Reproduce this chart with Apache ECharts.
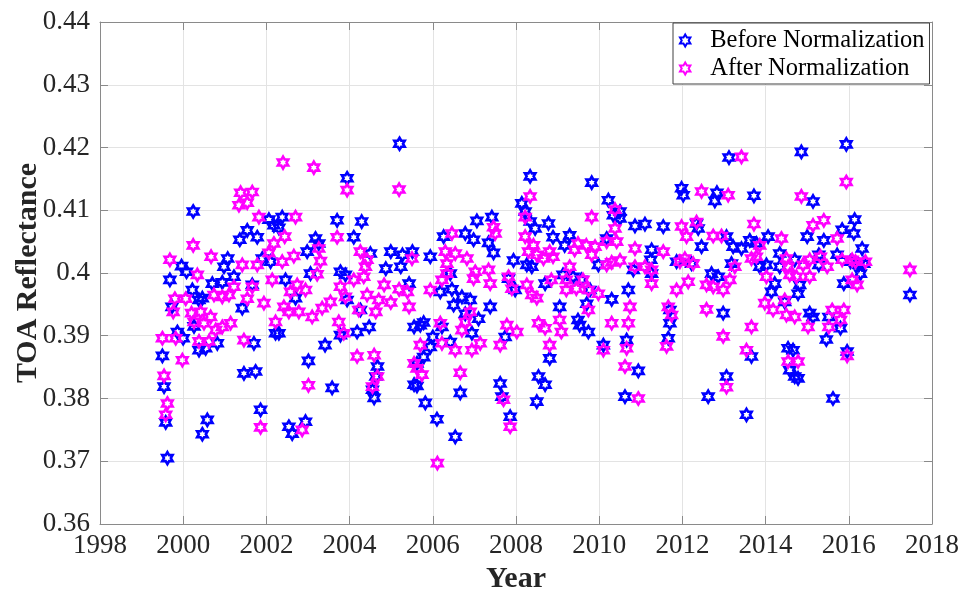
<!DOCTYPE html>
<html>
<head>
<meta charset="utf-8">
<script src="https://cdn.jsdelivr.net/npm/echarts@6/dist/echarts.min.js"></script>
<style>
  html, body { margin: 0; padding: 0; background: #fff; }
  #chart { width: 962px; height: 594px; }
</style>
</head>
<body>
<div id="chart"></div>
<script>
// Sampling times (decimal year) and TOA reflectance before normalization
const beforeYear = [
  2000.24, 2001.54, 2001.36, 2001.78, 2001.07, 2000.98, 1999.96, 2000.08, 1999.68, 2001.22,
  2001.90, 2002.10, 2000.22, 2000.38, 2000.70, 2000.94, 1999.73, 2001.42, 2001.66, 2002.22,
  1999.86, 2000.00, 2000.26, 2000.82, 2000.38, 2000.54, 2001.70, 1999.50, 1999.54, 1999.58,
  1999.62, 2001.46, 2001.74, 2001.86, 2000.58, 2000.46, 2002.06, 2002.18, 2000.46,
  2005.20, 2003.94, 2002.38, 2002.30, 2003.70, 2004.29, 2004.10, 2003.18, 2003.26, 2002.98,
  2004.99, 2005.27, 2005.51, 2004.50, 2004.87, 2005.23, 2003.78, 2003.90, 2003.06, 2002.46,
  2005.43, 2002.70, 2003.94, 2004.26, 2002.30, 2003.78, 2004.18, 2004.47, 2005.55, 2003.41,
  2003.01, 2004.67, 2004.63, 2004.55, 2004.59, 2003.58, 2005.55, 2002.54, 2002.62, 2002.94,
  2008.34, 2008.14, 2008.22, 2008.34, 2008.46, 2008.78, 2007.06, 2007.42, 2006.78, 2006.98,
  2006.26, 2007.34, 2007.46, 2005.94, 2007.94, 2008.26, 2008.38, 2006.42, 2007.82, 2008.70,
  2006.18, 2006.46, 2006.70, 2006.90, 2007.98, 2006.50, 2007.38, 2006.78, 2007.10, 2005.70,
  2005.78, 2006.22, 2006.94, 2007.74, 2006.00, 2006.42, 2005.94, 2005.78, 2005.62, 2008.54,
  2008.70, 2005.62, 2007.62, 2007.66, 2006.66, 2005.82, 2008.50, 2007.86, 2006.10, 2006.54,
  2009.82, 2010.22, 2011.98, 2012.02, 2010.50, 2010.34, 2010.50, 2010.86, 2011.10, 2011.54,
  2008.89, 2009.29, 2010.18, 2009.17, 2011.26, 2011.24, 2009.98, 2010.82, 2011.86, 2009.13,
  2009.37, 2009.57, 2011.26, 2009.78, 2010.70, 2010.30, 2009.05, 2009.70, 2011.70, 2009.49,
  2009.53, 2009.74, 2011.70, 2008.81, 2010.10, 2010.66, 2011.66, 2010.94, 2010.62,
  2013.12, 2014.86, 2012.83, 2012.78, 2013.72, 2015.14, 2012.34, 2012.38, 2013.06, 2012.46,
  2013.22, 2013.42, 2013.62, 2013.78, 2014.06, 2015.00, 2014.34, 2012.22, 2013.18, 2013.86,
  2014.02, 2014.34, 2014.70, 2012.70, 2012.86, 2014.22, 2014.14, 2014.82, 2014.78, 2014.46,
  2015.06, 2015.14, 2012.98, 2013.66, 2014.54, 2014.66, 2014.58, 2014.70, 2014.78, 2013.06,
  2012.62, 2013.54,
  2015.94, 2016.14, 2015.84, 2016.12, 2015.40, 2016.32, 2015.72, 2015.28, 2015.28, 2016.04,
  2016.24, 2016.36, 2016.28, 2015.88, 2017.47, 2015.52, 2015.80, 2015.46, 2015.96, 2015.62
];
const beforeValue = [
  0.4098, 0.4068, 0.4053, 0.4057, 0.4023, 0.4010, 0.4011, 0.4002, 0.3989, 0.3994,
  0.4023, 0.4018, 0.3973, 0.3957, 0.3983, 0.3985, 0.3946, 0.3944, 0.3981, 0.3904,
  0.3906, 0.3896, 0.3915, 0.3888, 0.3877, 0.3880, 0.3888, 0.3868, 0.3819, 0.3762,
  0.3705, 0.3840, 0.3843, 0.3782, 0.3766, 0.3743, 0.4085, 0.4076, 0.3960,
  0.4206, 0.4151, 0.4089, 0.4072, 0.4084, 0.4082, 0.4057, 0.4055, 0.4047, 0.4034,
  0.4034, 0.4029, 0.4034, 0.4031, 0.4007, 0.4010, 0.4002, 0.3997, 0.3999, 0.3989,
  0.3983, 0.3960, 0.3957, 0.3941, 0.3904, 0.3901, 0.3906, 0.3914, 0.3914, 0.3885,
  0.3860, 0.3851, 0.3835, 0.3814, 0.3801, 0.3817, 0.3822, 0.3755, 0.3744, 0.3763,
  0.4154, 0.4111, 0.4098, 0.4082, 0.4071, 0.4079, 0.4083, 0.4089, 0.4063, 0.4053,
  0.4058, 0.4048, 0.4032, 0.4026, 0.4020, 0.4013, 0.4010, 0.3999, 0.3991, 0.3983,
  0.3970, 0.3974, 0.3962, 0.3957, 0.3973, 0.3949, 0.3946, 0.3935, 0.3927, 0.3917,
  0.3921, 0.3914, 0.3904, 0.3898, 0.3898, 0.3890, 0.3882, 0.3866, 0.3856, 0.3835,
  0.3822, 0.3820, 0.3824, 0.3803, 0.3809, 0.3793, 0.3795, 0.3771, 0.3767, 0.3739,
  0.4144, 0.4116, 0.4135, 0.4124, 0.4098, 0.4092, 0.4087, 0.4075, 0.4078, 0.4074,
  0.4057, 0.4060, 0.4055, 0.4044, 0.4037, 0.4021, 0.4013, 0.4005, 0.4018, 0.3997,
  0.3994, 0.3989, 0.3999, 0.3973, 0.3973, 0.3958, 0.3946, 0.3951, 0.3941, 0.3925,
  0.3917, 0.3906, 0.3920, 0.3864, 0.3885, 0.3893, 0.3896, 0.3844, 0.3803,
  0.4184, 0.4193, 0.4128, 0.4115, 0.4123, 0.4114, 0.4079, 0.4071, 0.4058, 0.4042,
  0.4042, 0.4039, 0.4052, 0.4047, 0.4058, 0.4058, 0.4031, 0.4015, 0.4015, 0.4010,
  0.4013, 0.4010, 0.4021, 0.3999, 0.3994, 0.3983, 0.3970, 0.3981, 0.3967, 0.3954,
  0.3936, 0.3930, 0.3936, 0.3867, 0.3880, 0.3877, 0.3845, 0.3835, 0.3832, 0.3835,
  0.3803, 0.3774,
  0.4205, 0.4085, 0.4069, 0.4063, 0.4052, 0.4039, 0.4029, 0.4029, 0.4013, 0.4018,
  0.4013, 0.4015, 0.3999, 0.3983, 0.3965, 0.3930, 0.3912, 0.3894, 0.3875, 0.3800
];

// Sampling times (decimal year) and TOA reflectance after normalization
const afterYear = [
  2001.38, 2001.66, 2001.34, 2001.54, 2001.82, 2000.24, 1999.68, 2000.67, 2001.42, 2001.78,
  2002.18, 2002.06, 2002.14, 2000.34, 2001.66, 1999.80, 1999.76, 2000.06, 2000.20, 2000.42,
  2000.74, 2000.94, 2001.10, 2001.22, 2001.54, 2001.94, 2000.26, 2000.50, 2000.66, 2000.78,
  2000.94, 2001.14, 1999.50, 1999.82, 2000.38, 2000.62, 2001.46, 1999.98, 1999.54, 1999.62,
  1999.58, 2002.22, 2001.86,
  2002.40, 2003.14, 2003.94, 2005.19, 2002.70, 2002.44, 2003.70, 2003.26, 2003.30, 2004.26,
  2004.42, 2004.38, 2002.66, 2002.38, 2003.22, 2004.10, 2004.34, 2003.78, 2004.83, 2005.19,
  2005.39, 2002.58, 2002.94, 2002.74, 2004.42, 2004.70, 2004.99, 2003.54, 2003.34, 2003.90,
  2002.42, 2002.54, 2002.78, 2003.10, 2004.63, 2004.22, 2005.43, 2003.74, 2003.86, 2004.18,
  2004.59, 2004.67, 2004.55, 2003.01, 2005.55, 2002.86,
  2008.34, 2008.22, 2007.46, 2007.50, 2006.46, 2008.22, 2008.42, 2008.30, 2008.50, 2008.66,
  2006.30, 2006.54, 2006.82, 2006.34, 2006.34, 2006.22, 2007.02, 2007.34, 2006.98, 2007.38,
  2007.82, 2007.90, 2008.26, 2008.38, 2008.50, 2005.94, 2006.90, 2006.18, 2006.70, 2006.78,
  2008.54, 2008.70, 2007.78, 2008.02, 2005.70, 2006.22, 2006.54, 2006.94, 2007.14, 2007.62,
  2005.62, 2005.74, 2006.66, 2007.70, 2007.86, 2006.11, 2005.50,
  2010.38, 2009.82, 2010.38, 2011.98, 2009.49, 2009.69, 2009.90, 2009.41, 2009.82, 2010.18,
  2010.42, 2010.86, 2011.54, 2008.81, 2008.89, 2009.29, 2010.18, 2010.30, 2010.50, 2010.86,
  2011.10, 2011.26, 2011.26, 2011.94, 2008.85, 2009.21, 2009.21, 2009.45, 2009.61, 2009.74,
  2009.98, 2011.86, 2009.74, 2010.74, 2011.66, 2009.05, 2009.09, 2010.30, 2010.70, 2011.74,
  2008.81, 2010.10, 2010.66, 2011.62, 2010.62, 2010.94,
  2013.42, 2012.46, 2013.10, 2014.86, 2013.72, 2012.10, 2012.34, 2012.74, 2012.94, 2013.86,
  2014.38, 2015.14, 2012.06, 2012.26, 2013.66, 2013.78, 2013.26, 2014.50, 2014.54, 2014.90,
  2015.06, 2012.14, 2012.58, 2012.74, 2012.98, 2013.14, 2014.02, 2014.58, 2014.74, 2015.06,
  2013.98, 2014.18, 2014.46, 2014.50, 2014.70, 2012.58, 2013.66, 2015.02, 2012.98, 2013.54,
  2014.54, 2014.78, 2013.06,
  2015.94, 2015.40, 2015.72, 2015.32, 2015.48, 2015.84, 2016.08, 2016.16, 2016.40, 2016.08,
  2016.20, 2017.47, 2015.60, 2015.88, 2015.80, 2015.52, 2015.96
];
const afterValue = [
  0.4128, 0.4129, 0.4108, 0.4112, 0.4089, 0.4044, 0.4021, 0.4026, 0.4013, 0.4013,
  0.4047, 0.4032, 0.3989, 0.3997, 0.3978, 0.3959, 0.3938, 0.3959, 0.3936, 0.3938,
  0.3965, 0.3962, 0.3965, 0.3978, 0.3959, 0.3952, 0.3922, 0.3920, 0.3930, 0.3909,
  0.3914, 0.3920, 0.3896, 0.3896, 0.3891, 0.3891, 0.3893, 0.3861, 0.3836, 0.3792,
  0.3774, 0.3922, 0.3754,
  0.4176, 0.4168, 0.4132, 0.4133, 0.4089, 0.4058, 0.4057, 0.4039, 0.4019, 0.4034,
  0.4021, 0.4010, 0.4027, 0.4018, 0.3998, 0.3989, 0.3994, 0.3978, 0.3981, 0.3974,
  0.3970, 0.3970, 0.3973, 0.3981, 0.3965, 0.3957, 0.3953, 0.3954, 0.3944, 0.3962,
  0.3946, 0.3938, 0.3938, 0.3930, 0.3938, 0.3941, 0.3946, 0.3922, 0.3904, 0.3867,
  0.3869, 0.3835, 0.3819, 0.3821, 0.3856, 0.3750,
  0.4122, 0.4089, 0.4073, 0.4063, 0.4063, 0.4058, 0.4044, 0.4034, 0.4029, 0.4023,
  0.4034, 0.4031, 0.4023, 0.4015, 0.3999, 0.3989, 0.4002, 0.4005, 0.3991, 0.3983,
  0.3994, 0.3975, 0.3981, 0.3965, 0.3960, 0.3973, 0.3938, 0.3920, 0.3909, 0.3922,
  0.3920, 0.3912, 0.3917, 0.3906, 0.3885, 0.3888, 0.3877, 0.3877, 0.3888, 0.3885,
  0.3848, 0.3838, 0.3841, 0.3798, 0.3755, 0.3697, 0.4023,
  0.4101, 0.4089, 0.4071, 0.4074, 0.4047, 0.4044, 0.4042, 0.4037, 0.4029, 0.4050,
  0.4050, 0.4039, 0.4034, 0.4034, 0.4026, 0.4010, 0.4013, 0.4017, 0.4020, 0.4010,
  0.4010, 0.4005, 0.3983, 0.4018, 0.3989, 0.3989, 0.3973, 0.3975, 0.3989, 0.3973,
  0.3967, 0.3973, 0.3941, 0.3946, 0.3946, 0.3925, 0.3906, 0.3920, 0.3920, 0.3933,
  0.3885, 0.3877, 0.3880, 0.3883, 0.3851, 0.3800,
  0.4185, 0.4130, 0.4124, 0.4122, 0.4078, 0.4058, 0.4081, 0.4059, 0.4059, 0.4044,
  0.4055, 0.4076, 0.4023, 0.4015, 0.4023, 0.4026, 0.4010, 0.4023, 0.4010, 0.4013,
  0.4021, 0.3986, 0.3981, 0.3978, 0.3973, 0.3989, 0.3994, 0.3997, 0.3994, 0.3994,
  0.3952, 0.3941, 0.3957, 0.3933, 0.3930, 0.3942, 0.3914, 0.3914, 0.3899, 0.3877,
  0.3859, 0.3859, 0.3818,
  0.4145, 0.4084, 0.4055, 0.4026, 0.4010, 0.4021, 0.4021, 0.4018, 0.4018, 0.3989,
  0.3981, 0.4005, 0.3941, 0.3941, 0.3925, 0.3914, 0.3868
];

const xTicks = { min: 1998, max: 2018, step: 2 };
const yTicks = { min: 0.36, max: 0.44, step: 0.01 };
const seriesNames = ['Before Normalization', 'After Normalization'];

// six-pointed star outline used as the marker
const HEXAGRAM = 'path://M0,-10L2.887,-5L8.66,-5L5.774,0L8.66,5L2.887,5L0,10L-2.887,5L-8.66,5L-5.774,0L-8.66,-5L-2.887,-5Z';

const FONT = '"Liberation Serif", "Times New Roman", serif';
const AXIS_GREY = '#8a8a8a';
const GRID_GREY = '#e3e3e3';
const TEXT = '#262626';

function pairs(xs, ys) { return xs.map((x, i) => [x, ys[i]]); }

function valueAxis(range, pos, main, extra) {
  return Object.assign({
    type: 'value', position: pos,
    min: range.min, max: range.max, interval: range.step,
    axisLine: { show: true, onZero: false, lineStyle: { color: AXIS_GREY, width: 1 } },
    axisTick: { show: true, inside: true, length: 8, lineStyle: { color: AXIS_GREY } },
    splitLine: { show: main, lineStyle: { color: GRID_GREY, width: 1 } },
    axisLabel: { show: false }
  }, extra || {});
}

const chart = echarts.init(document.getElementById('chart'), null, { renderer: 'canvas' });

function markerSeries(name, xs, ys, color) {
  return {
    name: name, type: 'scatter',
    data: pairs(xs, ys),
    symbol: HEXAGRAM, symbolSize: 12, symbolKeepAspect: true,
    itemStyle: { color: 'rgba(255,255,255,0)', borderColor: color, borderWidth: 2.6, opacity: 1 },
    emphasis: { disabled: true },
    animation: false
  };
}

chart.setOption({
  backgroundColor: '#ffffff',
  animation: false,
  grid: { left: 100, right: 30, top: 22, bottom: 70, containLabel: false, outerBoundsMode: 'none' },
  legend: {
    orient: 'vertical', left: 673, top: 23,
    padding: [5, 5, 3, 6], itemGap: 3,
    itemWidth: 14, itemHeight: 12,
    backgroundColor: '#ffffff', borderColor: '#404040', borderWidth: 1,
    textStyle: { fontFamily: FONT, fontSize: 24.5, color: '#000', padding: [0, 0, 0, 13] },
    data: seriesNames
  },
  xAxis: [
    valueAxis(xTicks, 'bottom', true, {
      name: 'Year', nameLocation: 'middle', nameGap: 40, nameMoveOverlap: false,
      nameTextStyle: { fontFamily: FONT, fontSize: 30, fontWeight: 'bold', color: TEXT },
      axisLabel: { show: true, fontFamily: FONT, fontSize: 27, color: TEXT, margin: 8,
        formatter: v => String(Math.round(v)) }
    }),
    valueAxis(xTicks, 'top', false)
  ],
  yAxis: [
    valueAxis(yTicks, 'left', true, {
      name: 'TOA Reflectance', nameLocation: 'middle', nameGap: 57, nameMoveOverlap: false,
      nameTextStyle: { fontFamily: FONT, fontSize: 30, fontWeight: 'bold', color: TEXT },
      axisLabel: { show: true, fontFamily: FONT, fontSize: 27, color: TEXT, margin: 10,
        formatter: v => String(+v.toFixed(2)) }
    }),
    valueAxis(yTicks, 'right', false)
  ],
  series: [
    markerSeries(seriesNames[0], beforeYear, beforeValue, '#0000ff'),
    markerSeries(seriesNames[1], afterYear, afterValue, '#ff00ff')
  ]
});
</script>
</body>
</html>
